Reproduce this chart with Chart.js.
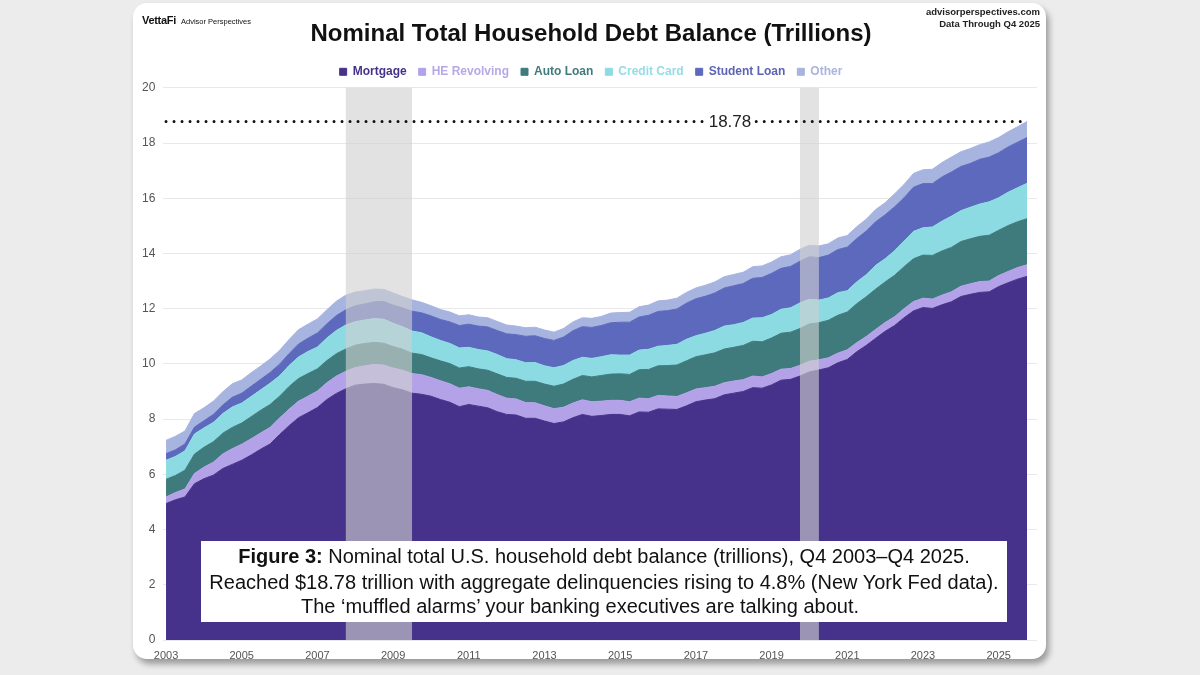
<!DOCTYPE html>
<html>
<head>
<meta charset="utf-8">
<title>Nominal Total Household Debt Balance</title>
<script src="https://cdn.jsdelivr.net/npm/chart.js@4.4.1/dist/chart.umd.min.js"></script>
<style>
  html, body { margin: 0; padding: 0; }
  body {
    width: 1200px; height: 675px; overflow: hidden; position: relative;
    background: #ececec;
    font-family: "Liberation Sans", Arial, sans-serif;
  }
  #card {
    position: absolute; left: 133px; top: 3px; width: 913px; height: 656px;
    background: #fff; border-radius: 14px;
    box-shadow: 3px 5px 6px rgba(0, 0, 0, 0.35);
  }
  #chart { position: absolute; left: 0; top: 0; }
  .brand { position: absolute; left: 142px; top: 10px; color: #111; white-space: nowrap; }
  .brand b { font-size: 11px; letter-spacing: -0.3px; }
  .brand span { font-size: 7.5px; margin-left: 5px; }
  .source {
    position: absolute; right: 160px; top: 6px; text-align: right;
    font-size: 9.5px; font-weight: bold; line-height: 12px; color: #222;
  }
  #caption {
    position: absolute; left: 201px; top: 541px; width: 806px; height: 81px;
    background: #fff; color: #111; font-size: 20px;
  }
  #caption div { position: absolute; left: 0; width: 100%; text-align: center; white-space: nowrap; }
</style>
</head>
<body>
<div id="card"></div>
<canvas id="chart" width="1200" height="675"></canvas>
<div class="brand"><b>VettaFi</b><span>Advisor Perspectives</span></div>
<div class="source">advisorperspectives.com<br>Data Through Q4 2025</div>
<div id="caption">
  <div style="top:4px"><b>Figure 3:</b> Nominal total U.S. household debt balance (trillions), Q4 2003–Q4 2025.</div>
  <div style="top:30px">Reached $18.78 trillion with aggregate delinquencies rising to 4.8% (New York Fed data).</div>
  <div style="top:54px; left:-24px">The ‘muffled alarms’ your banking executives are talking about.</div>
</div>
<script>
// Quarterly categories, Q1 2003 .. Q4 2025
const quarters = [];
for (let yr = 2003; yr <= 2025; yr++) {
    for (let q = 1; q <= 4; q++) quarters.push(yr + ' Q' + q);
}

// Balances in trillions, one value per quarter
const mortgage = [
    4.94, 5.08, 5.18, 5.66,  5.84, 5.97, 6.21, 6.36,  6.51, 6.70, 6.91, 7.10,
    7.44, 7.76, 8.05, 8.23,  8.42, 8.71, 8.93, 9.10,  9.23, 9.27, 9.29, 9.26,
    9.14, 9.06, 8.94, 8.90,  8.83, 8.71, 8.61, 8.45,  8.53, 8.47, 8.41, 8.27,
    8.17, 8.15, 8.03, 8.03,  7.93, 7.84, 7.90, 8.05,  8.17, 8.10, 8.13, 8.17,
    8.17, 8.12, 8.26, 8.25,  8.37, 8.36, 8.35, 8.48,  8.63, 8.69, 8.74, 8.88,
    8.94, 9.00, 9.14, 9.12,  9.24, 9.41, 9.44, 9.56,  9.71, 9.78, 9.86, 10.04,
    10.16, 10.44, 10.67, 10.93,  11.18, 11.39, 11.67, 11.92,  12.04, 12.01, 12.14, 12.25,
    12.44, 12.52, 12.59, 12.61,  12.80, 12.94, 13.07, 13.17
];
const heRevolving = [
    0.24, 0.26, 0.29, 0.37,  0.42, 0.47, 0.53, 0.57,  0.58, 0.59, 0.59, 0.60,
    0.60, 0.60, 0.60, 0.60,  0.60, 0.61, 0.63, 0.63,  0.64, 0.66, 0.69, 0.70,
    0.71, 0.71, 0.71, 0.71,  0.68, 0.68, 0.67, 0.67,  0.64, 0.63, 0.63, 0.62,
    0.59, 0.58, 0.57, 0.56,  0.55, 0.54, 0.53, 0.53,  0.53, 0.53, 0.52, 0.51,
    0.51, 0.51, 0.50, 0.49,  0.49, 0.48, 0.47, 0.47,  0.46, 0.45, 0.45, 0.44,
    0.44, 0.43, 0.42, 0.41,  0.41, 0.40, 0.39, 0.39,  0.39, 0.37, 0.36, 0.35,
    0.35, 0.33, 0.32, 0.32,  0.32, 0.32, 0.33, 0.34,  0.34, 0.34, 0.35, 0.36,
    0.37, 0.38, 0.39, 0.39,  0.40, 0.41, 0.42, 0.42
];
const autoLoan = [
    0.64, 0.62, 0.68, 0.70,  0.72, 0.74, 0.75, 0.77,  0.77, 0.80, 0.82, 0.83,
    0.79, 0.82, 0.82, 0.82,  0.80, 0.80, 0.81, 0.81,  0.81, 0.81, 0.80, 0.79,
    0.78, 0.76, 0.74, 0.73,  0.71, 0.72, 0.73, 0.73,  0.73, 0.72, 0.73, 0.75,
    0.75, 0.75, 0.77, 0.78,  0.79, 0.81, 0.84, 0.86,  0.88, 0.90, 0.93, 0.95,
    0.96, 0.99, 1.03, 1.06,  1.07, 1.10, 1.14, 1.16,  1.17, 1.19, 1.21, 1.22,
    1.22, 1.24, 1.26, 1.27,  1.29, 1.30, 1.32, 1.33,  1.35, 1.34, 1.36, 1.37,
    1.37, 1.41, 1.44, 1.46,  1.47, 1.50, 1.52, 1.55,  1.56, 1.58, 1.60, 1.61,
    1.62, 1.63, 1.64, 1.66,  1.64, 1.66, 1.66, 1.67
];
const creditCard = [
    0.69, 0.69, 0.70, 0.73,  0.70, 0.70, 0.71, 0.74,  0.72, 0.73, 0.74, 0.77,
    0.74, 0.76, 0.78, 0.80,  0.79, 0.82, 0.84, 0.87,  0.85, 0.85, 0.86, 0.87,
    0.84, 0.82, 0.80, 0.79,  0.76, 0.74, 0.73, 0.73,  0.70, 0.70, 0.70, 0.70,
    0.68, 0.67, 0.67, 0.68,  0.66, 0.67, 0.67, 0.68,  0.66, 0.67, 0.68, 0.70,
    0.68, 0.70, 0.71, 0.73,  0.71, 0.73, 0.75, 0.78,  0.76, 0.78, 0.81, 0.83,
    0.82, 0.83, 0.84, 0.87,  0.85, 0.87, 0.88, 0.93,  0.89, 0.82, 0.81, 0.82,
    0.77, 0.79, 0.80, 0.86,  0.84, 0.89, 0.93, 0.99,  0.99, 1.03, 1.08, 1.13,
    1.12, 1.14, 1.17, 1.21,  1.18, 1.21, 1.23, 1.28
];
const studentLoan = [
    0.24, 0.24, 0.25, 0.25,  0.26, 0.29, 0.31, 0.35,  0.36, 0.37, 0.38, 0.39,
    0.42, 0.43, 0.47, 0.48,  0.51, 0.51, 0.54, 0.55,  0.58, 0.58, 0.61, 0.64,
    0.66, 0.68, 0.72, 0.72,  0.76, 0.76, 0.78, 0.81,  0.84, 0.85, 0.87, 0.87,
    0.90, 0.91, 0.96, 0.97,  0.99, 0.99, 1.03, 1.08,  1.11, 1.12, 1.13, 1.16,
    1.19, 1.19, 1.20, 1.23,  1.26, 1.26, 1.28, 1.31,  1.34, 1.34, 1.36, 1.38,
    1.41, 1.41, 1.44, 1.46,  1.49, 1.48, 1.50, 1.51,  1.54, 1.54, 1.55, 1.56,
    1.58, 1.57, 1.58, 1.58,  1.59, 1.59, 1.57, 1.60,  1.60, 1.57, 1.60, 1.60,
    1.60, 1.59, 1.62, 1.62,  1.63, 1.64, 1.65, 1.66
];
const other = [
    0.48, 0.49, 0.47, 0.49,  0.47, 0.48, 0.48, 0.49,  0.48, 0.49, 0.48, 0.49,
    0.50, 0.51, 0.52, 0.51,  0.51, 0.51, 0.52, 0.53,  0.49, 0.48, 0.46, 0.44,
    0.44, 0.41, 0.41, 0.38,  0.37, 0.36, 0.36, 0.35,  0.34, 0.33, 0.33, 0.33,
    0.32, 0.31, 0.31, 0.31,  0.31, 0.30, 0.31, 0.32,  0.32, 0.33, 0.33, 0.35,
    0.35, 0.36, 0.37, 0.37,  0.38, 0.38, 0.39, 0.39,  0.39, 0.40, 0.40, 0.41,
    0.41, 0.41, 0.42, 0.42,  0.41, 0.42, 0.42, 0.43,  0.42, 0.42, 0.41, 0.42,
    0.42, 0.43, 0.43, 0.44,  0.44, 0.47, 0.48, 0.50,  0.50, 0.52, 0.52, 0.54,
    0.53, 0.54, 0.53, 0.55,  0.55, 0.55, 0.56, 0.58
];

const seriesNames = ['Mortgage', 'HE Revolving', 'Auto Loan', 'Credit Card', 'Student Loan', 'Other'];
const seriesValues = [mortgage, heRevolving, autoLoan, creditCard, studentLoan, other];
const seriesColors = ['#46328a', '#b3a2e8', '#3f7b7c', '#8cdbe3', '#5d69bd', '#a7b4e0'];
const legendTextColors = ['#46328a', '#b7a8e6', '#3f7b7c', '#95dce4', '#5d64b5', '#aab5de'];

const yTicks = [0, 2, 4, 6, 8, 10, 12, 14, 16, 18, 20];
const xTickYears = [2003, 2005, 2007, 2009, 2011, 2013, 2015, 2017, 2019, 2021, 2023, 2025];

// Shaded recession spans (start quarter, end quarter)
const recessions = [['2007 Q4', '2009 Q3'], ['2019 Q4', '2020 Q2']];

// Latest total, shown as the dotted reference line
const lastIdx = quarters.length - 1;
const latestTotal = seriesValues.reduce((s, arr) => s + arr[lastIdx], 0);

const FONT = '"Liberation Sans", Arial, sans-serif';

const overlays = {
    id: 'overlays',
    afterDatasetsDraw(chart) {
        const { ctx, chartArea: area, scales: { x, y } } = chart;
        ctx.save();

        // recession bands
        ctx.fillStyle = 'rgba(208, 208, 208, 0.62)';
        recessions.forEach(([s, e]) => {
            const x0 = x.getPixelForValue(quarters.indexOf(s));
            const x1 = x.getPixelForValue(quarters.indexOf(e));
            ctx.fillRect(x0, area.top, x1 - x0, area.bottom - area.top);
        });

        // dotted line at the latest total
        const yy = y.getPixelForValue(latestTotal);
        const label = latestTotal.toFixed(2);
        ctx.font = '17px ' + FONT;
        const lx = x.getPixelForValue(59.6);
        const half = ctx.measureText(label).width / 2 + 5;
        ctx.strokeStyle = '#111';
        ctx.lineWidth = 3;
        ctx.lineCap = 'round';
        ctx.setLineDash([0, 8]);
        ctx.beginPath();
        ctx.moveTo(x.getPixelForValue(0), yy);
        ctx.lineTo(lx - half, yy);
        ctx.moveTo(lx + half, yy);
        ctx.lineTo(x.getPixelForValue(90.3), yy);
        ctx.stroke();
        ctx.setLineDash([]);
        ctx.fillStyle = '#222';
        ctx.textAlign = 'center';
        ctx.textBaseline = 'middle';
        ctx.fillText(label, lx, yy + 1);
        ctx.restore();
    }
};

const datasets = seriesNames.map((name, i) => ({
    label: name,
    data: seriesValues[i].map((v, k) => ({ x: k, y: v })),
    backgroundColor: seriesColors[i],
    borderColor: seriesColors[i],
    borderWidth: 1,
    pointRadius: 0,
    tension: 0,
    fill: i === 0 ? 'origin' : '-1'
}));

new Chart(document.getElementById('chart'), {
    type: 'line',
    data: { datasets },
    plugins: [overlays],
    options: {
        responsive: false,
        animation: false,
        events: [],
        layout: { padding: { left: 145, right: 163, top: 4, bottom: 11 } },
        plugins: {
            title: {
                display: true,
                text: 'Nominal Total Household Debt Balance (Trillions)',
                color: '#111',
                font: { family: FONT, size: 24, weight: 'bold' },
                padding: { top: 16, bottom: 5 }
            },
            legend: {
                display: true,
                labels: {
                    boxWidth: 7,
                    boxHeight: 7,
                    padding: 12,
                    font: { family: FONT, size: 12, weight: 'bold' },
                    generateLabels(chart) {
                        const items = Chart.defaults.plugins.legend.labels.generateLabels(chart);
                        items.forEach((it, i) => {
                            it.fontColor = legendTextColors[i];
                            it.strokeStyle = it.fillStyle;
                        });
                        return items;
                    }
                }
            },
            tooltip: { enabled: false }
        },
        scales: {
            x: {
                type: 'linear',
                min: -0.32,
                max: 92.05,
                grid: { display: false, drawTicks: false },
                border: { display: false },
                afterBuildTicks(scale) {
                    scale.ticks = xTickYears.map(yr => ({ value: quarters.indexOf(yr + ' Q1') }));
                },
                afterFit(scale) { scale.height = 24; },
                ticks: {
                    autoSkip: false,
                    maxRotation: 0,
                    padding: 9,
                    color: '#555',
                    font: { family: FONT, size: 11 },
                    callback: (v) => quarters[v].slice(0, 4)
                }
            },
            y: {
                stacked: true,
                min: 0,
                max: 20,
                border: { display: false },
                grid: { color: '#e8e8e8', lineWidth: 1, drawTicks: false },
                afterBuildTicks(scale) {
                    scale.ticks = yTicks.map(v => ({ value: v }));
                },
                afterFit(scale) { scale.width = 18; },
                ticks: {
                    // mirrored so the labels are not clipped to the narrow axis box,
                    // then pulled back to the left of the plot
                    mirror: true,
                    crossAlign: 'far',
                    padding: -21,
                    color: '#555',
                    font: { family: FONT, size: 12 }
                }
            }
        }
    }
});
</script>
</body>
</html>
